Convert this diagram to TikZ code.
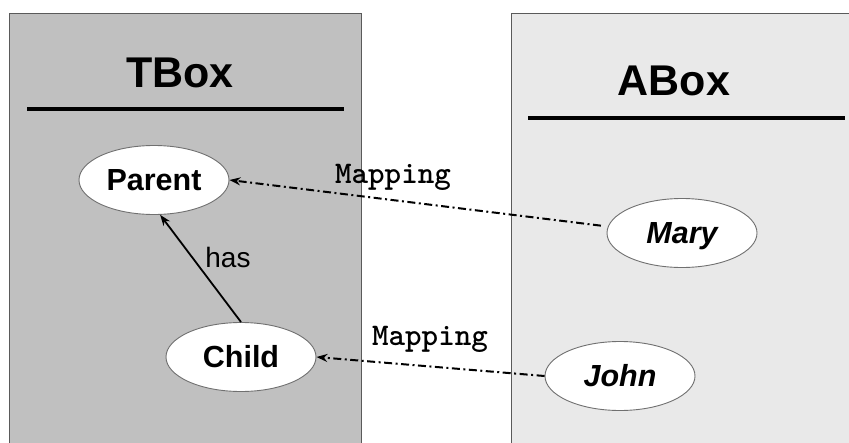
\documentclass[tikz,border=0pt]{standalone}
\usepackage{fontspec}
\setmainfont{Liberation Sans}
\usetikzlibrary{shapes.geometric,arrows.meta}
\definecolor{tboxfill}{HTML}{C0C0C0}
\definecolor{aboxfill}{HTML}{E9E9E9}
\definecolor{frame}{HTML}{5A5A5A}
\definecolor{ovalline}{HTML}{707070}
\tikzset{
  panel/.style={draw=frame, line width=0.8pt},
  title/.style={font=\fontsize{43}{43}\selectfont\bfseries, anchor=base, inner sep=0pt},
  rule/.style={line width=4pt},
  concept/.style={ellipse, draw=ovalline, fill=white, line width=0.9pt,
    minimum width=150pt, minimum height=69pt, inner sep=0pt,
    text height=21.5pt, text depth=0pt,
    font=\fontsize{30.5}{30.5}\selectfont\bfseries},
  individual/.style={concept, font=\fontsize{30.5}{30.5}\selectfont\bfseries\itshape},
  relation/.style={-{Stealth[length=11pt,width=8pt]}, line width=1.8pt},
  mapping/.style={-{Stealth[length=11pt,width=8pt]}, line width=2pt,
    dash pattern=on 8pt off 3.5pt on 2pt off 3.5pt},
  maplabel/.style={font=\ttfamily\bfseries\fontsize{31.5}{31.5}\selectfont, anchor=base, inner sep=0pt},
  edgelabel/.style={font=\fontsize{28}{28}\selectfont, anchor=base, inner sep=0pt}
}
\begin{document}
\begin{tikzpicture}[x=1pt,y=-1pt]
  \useasboundingbox (0,0) rectangle (849,442);
  % the two boxes
  \path[panel, fill=tboxfill] (9,13) rectangle (361,450);
  \path[panel, fill=aboxfill] (511,13) rectangle (860,450);
  % headings
  \node[title] (tbox) at (180,87) {TBox};
  \draw[rule] (27,109) -- (344,109);
  \node[title] (abox) at (674,95) {ABox};
  \draw[rule] (528,118) -- (845,118);
  % concepts and individuals
  \node[concept] (parent) at (154,180) {Parent};
  \node[concept] (child) at (241,357) {Child};
  \node[individual] (mary) at (682,233) {Mary};
  \node[individual] (john) at (620,376) {John};
  % role between the concepts
  \draw[relation] (child.north) -- (parent.-80);
  \node[edgelabel] (has) at (228,267) {has};
  % mappings from the ABox to the TBox
  \draw[mapping, shorten <=7pt] (mary.175) -- (parent.east);
  \node[maplabel] (map1) at (393,183) {Mapping};
  \draw[mapping] (john.west) -- (child.east);
  \node[maplabel] (map2) at (430,345) {Mapping};
\end{tikzpicture}
\end{document}
